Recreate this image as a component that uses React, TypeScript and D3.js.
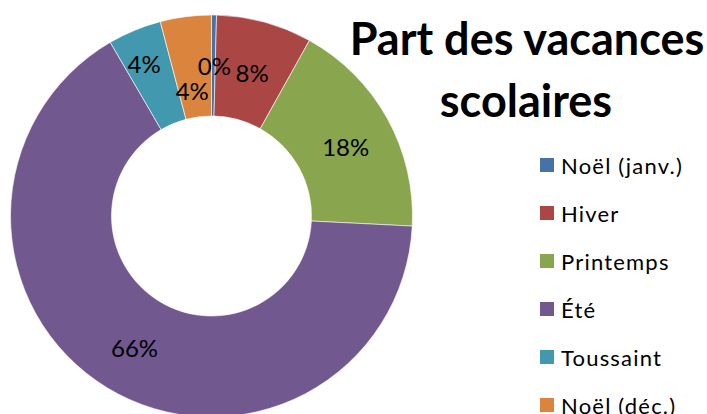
import React from "react";
import * as d3 from "d3";

const categories = ["Noël (janv.)", "Hiver", "Printemps", "Été", "Toussaint", "Noël (déc.)"];
const values = [0.4, 7.7, 17.7, 65.8, 4.3, 4.1];
const labels = ["0%", "8%", "18%", "66%", "4%", "4%"];
const colors = ["#4572A7", "#AA4643", "#89A54E", "#71588F", "#4198AF", "#DB843D"];
// label nudges (collision avoidance, as in the original)
const labelNudgeX = [1, 1, 3, 1, -10, 0];
const labelNudgeY = [-1, 1, 3, 3, -14, 23];
const titleLines = ["Part des vacances", "scolaires"];

const W = 707;
const H = 414;

export default function App() {
  const cx = 211.5;
  const cy = 216;
  const rOuter = 201;
  const rInner = 100;
  const pie = d3.pie<number>().sort(null).value((d) => d);
  const arcs = pie(values);
  const arc = d3.arc<d3.PieArcDatum<number>>().innerRadius(rInner).outerRadius(rOuter);
  const labelArc = d3.arc<d3.PieArcDatum<number>>().innerRadius(150).outerRadius(150);

  const legendY = d3.scaleBand<string>().domain(categories).range([141, 429]);

  return (
    <svg
      width={W}
      height={H}
      style={{ position: "absolute", left: 0, top: 0, background: "#fff" }}
      fontFamily="Lato, 'Open Sans', sans-serif"
    >
      <g transform={`translate(${cx},${cy})`}>
        {arcs.map((a, i) => (
          <path key={i} d={arc(a) || ""} fill={colors[i]} stroke="#ffffff" strokeWidth={0.6} />
        ))}
        {arcs.map((a, i) => {
          const [x, y] = labelArc.centroid(a);
          return (
            <text
              key={"l" + i}
              x={x + labelNudgeX[i]}
              y={y + labelNudgeY[i]}
              textAnchor="middle"
              dominantBaseline="central"
              fontSize={24}
              fill="#000"
            >
              {labels[i]}
            </text>
          );
        })}
      </g>
      <text x={527} y={55} textAnchor="middle" fontSize={45} fontWeight="bold" fill="#000">
        {titleLines[0]}
      </text>
      <text x={526} y={117} textAnchor="middle" fontSize={45} fontWeight="bold" fill="#000">
        {titleLines[1]}
      </text>
      {categories.map((c, i) => {
        const y = (legendY(c) || 0) + legendY.bandwidth() / 2;
        return (
          <g key={"lg" + i}>
            <rect x={540} y={y - 7} width={14} height={14} fill={colors[i]} />
            <text x={561} y={y} dominantBaseline="central" fontSize={22} letterSpacing={1.2} fill="#000">
              {c}
            </text>
          </g>
        );
      })}
    </svg>
  );
}
